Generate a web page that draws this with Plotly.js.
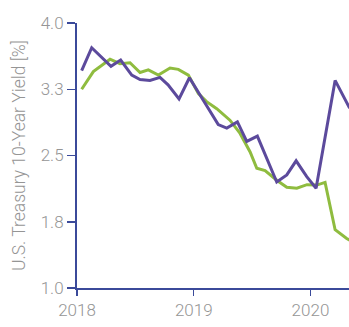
<!DOCTYPE html>
<html><head><meta charset="utf-8">
<script src="https://cdn.plot.ly/plotly-3.0.1.min.js"></script>
<style>html,body{margin:0;padding:0;background:#fff}#c{width:349px;height:327px}</style>
</head><body><div id="c"></div>
<script>
var purpleX = [2018.04,2018.126,2018.291,2018.374,2018.469,2018.54,2018.625,2018.711,2018.78,2018.874,2018.963,2019.054,2019.14,2019.21,2019.283,2019.374,2019.454,2019.545,2019.711,2019.797,2019.877,2019.968,2020.048,2020.211,2020.33,2020.42];
var purpleY = [3.46,3.72,3.51,3.58,3.41,3.36,3.35,3.385,3.30,3.14,3.38,3.185,3.00,2.85,2.81,2.88,2.66,2.72,2.20,2.28,2.44,2.26,2.13,3.35,3.05,2.9];
var greenX = [2018.04,2018.14,2018.283,2018.368,2018.454,2018.54,2018.611,2018.697,2018.797,2018.868,2018.954,2019.04,2019.11,2019.197,2019.31,2019.397,2019.483,2019.54,2019.611,2019.711,2019.797,2019.883,2019.97,2020.054,2020.125,2020.211,2020.31,2020.4];
var greenY = [3.25,3.45,3.59,3.54,3.55,3.44,3.47,3.41,3.49,3.475,3.41,3.20,3.11,3.03,2.90,2.75,2.54,2.355,2.33,2.22,2.14,2.13,2.17,2.165,2.195,1.66,1.56,1.5];
var yTicks = [1.0,1.75,2.5,3.25,4.0];
var yTickText = ["1.0","1.8","2.5","3.3","4.0"];
var xTicks = [2018,2019,2020];
var xTickText = ["2018","2019","2020"];

var axisCol = '#3b4a9a';
var txtCol = '#959595';
var traces = [
  {x: greenX, y: greenY, type:'scatter', mode:'lines', line:{color:'#8fbc3f', width:3}, hoverinfo:'skip'},
  {x: purpleX, y: purpleY, type:'scatter', mode:'lines', line:{color:'#5c4a9c', width:3}, hoverinfo:'skip'}
];
var layout = {
  width:349, height:327,
  margin:{l:77, r:0, t:23, b:39, pad:0},
  paper_bgcolor:'#fff', plot_bgcolor:'#fff',
  showlegend:false,
  font:{family:'Roboto, "DejaVu Sans", sans-serif', color:txtCol, size:17, weight:300},
  xaxis:{range:[2018, 2020.33], tickvals:xTicks, ticktext:xTickText, showgrid:false, zeroline:false,
    showline:true, linecolor:axisCol, linewidth:2, ticks:'outside', ticklen:6, tickwidth:1.5, tickcolor:axisCol,
    tickfont:{size:17, color:txtCol, weight:300}},
  yaxis:{range:[1,4], tickvals:yTicks, ticktext:yTickText, showgrid:false, zeroline:false,
    showline:true, linecolor:axisCol, linewidth:2, ticks:'outside', ticklen:8, tickwidth:1.5, tickcolor:axisCol,
    tickfont:{size:17, color:txtCol, weight:300},
    title:{text:'U.S. Treasury 10-Year Yield [%]', font:{size:17.5, color:txtCol, weight:300}, standoff:11}}
};
Plotly.newPlot('c', traces, layout, {staticPlot:true, displayModeBar:false});
</script></body></html>
